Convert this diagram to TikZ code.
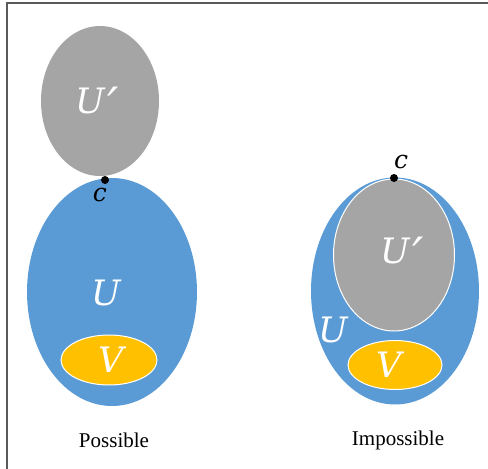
\documentclass[tikz,border=0pt]{standalone}
\usepackage{fontspec}
\setmainfont{Liberation Serif}
\newfontfamily\labfont{DejaVu Serif}
\usetikzlibrary{shapes.geometric}
\definecolor{setblue}{HTML}{5B9BD5}
\definecolor{setgray}{HTML}{A5A5A5}
\definecolor{setyellow}{HTML}{FFC000}
\definecolor{framegray}{HTML}{5A5A5A}
\newcommand{\bigprime}{\kern2pt\raisebox{-10pt}{\fontsize{50}{50}\selectfont ′}}

\begin{document}
\begin{tikzpicture}[x=1pt, y=-1pt, thick,
    set/.style={ellipse, inner sep=0pt},
    lab/.style={text=white, inner sep=0pt, font=\labfont\itshape\fontsize{35}{35}\selectfont},
    pointlab/.style={inner sep=0pt, font=\labfont\itshape\fontsize{25}{25}\selectfont},
    caption/.style={font=\fontsize{21}{21}\selectfont, inner sep=0pt}]
    \useasboundingbox (0,0) rectangle (488,469);
    \draw[framegray, line width=1.2pt] (7,469) -- (7,3) -- (488,3);

    % possible
    \node[set, fill=setgray, minimum width=118pt, minimum height=150pt] (ua) at (100,101) {};
    \node[set, fill=setblue, minimum width=170pt, minimum height=228pt] (ub) at (112,292) {};
    \node[set, fill=setyellow, draw=white, line width=1pt, minimum width=96pt, minimum height=50pt] (va) at (109,360) {};
    \fill (105,180) circle (4pt) coordinate (ca);
    \node[lab, anchor=base] (lua) at (97,113) {U\bigprime};
    \node[lab] (lub) at (106,293) {U};
    \node[lab] (lva) at (111,360) {V};
    \node[pointlab] (lca) at (100,195) {c};
    \node[caption] (pos) at (114,440) {Possible};

    % impossible
    \node[set, fill=setblue, minimum width=168pt, minimum height=227pt] (ubb) at (395,291) {};
    \node[set, fill=setgray, draw=white, line width=1pt, minimum width=121pt, minimum height=152pt] (uab) at (394,255) {};
    \node[set, fill=setyellow, draw=white, line width=1pt, minimum width=94pt, minimum height=49pt] (vb) at (395,365) {};
    \fill (394,178) circle (4pt) coordinate (cb);
    \node[lab, anchor=base] (luab) at (402,263) {U\bigprime};
    \node[lab] (lubb) at (333,330) {U};
    \node[lab] (lvb) at (389,365) {V};
    \node[pointlab] (lcb) at (401,162) {c};
    \node[caption] (imp) at (398,440) {Impossible};
\end{tikzpicture}
\end{document}
